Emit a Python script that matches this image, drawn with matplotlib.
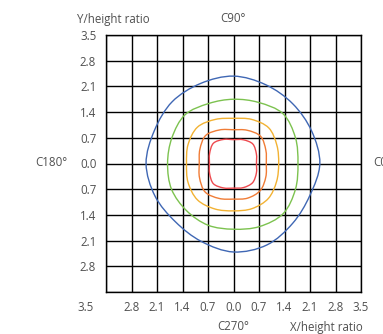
import numpy as np
import matplotlib
matplotlib.use("Agg")
import matplotlib.pyplot as plt
from matplotlib.path import Path
from matplotlib.patches import PathPatch

plt.rcParams['font.family'] = ['Open Sans', 'DejaVu Sans']

# isolux contours, radius (height ratio) read every 22.5 deg, counter-clockwise from C0
angles_deg = [0, 22.5, 45, 67.5, 90, 112.5, 135, 157.5,
              180, 202.5, 225, 247.5, 270, 292.5, 315, 337.5]
r_blue = [2.37, 2.32, 2.30, 2.32, 2.38, 2.36, 2.38, 2.35,
          2.40, 2.33, 2.25, 2.30, 2.41, 2.40, 2.30, 2.27]
r_green = [1.77, 1.84, 1.92, 1.80, 1.75, 1.77, 1.88, 1.83,
           1.81, 1.84, 1.82, 1.82, 1.79, 1.86, 1.93, 1.84]
r_yellow = [1.24, 1.29, 1.37, 1.30, 1.23, 1.30, 1.40, 1.35,
            1.29, 1.35, 1.40, 1.34, 1.29, 1.33, 1.35, 1.28]
r_orange = [0.90, 0.96, 1.05, 0.98, 0.92, 0.99, 1.08, 1.00,
            0.94, 1.01, 1.10, 1.03, 0.97, 1.02, 1.04, 0.96]
r_red = [0.63, 0.68, 0.75, 0.70, 0.65, 0.71, 0.78, 0.71,
         0.66, 0.71, 0.78, 0.72, 0.67, 0.71, 0.74, 0.68]

contours = [r_blue, r_green, r_yellow, r_orange, r_red]
colors = ['#3f67b4', '#7cc24f', '#f2b233', '#f07c36', '#ee4a4f']

grid_ticks = [-3.5, -2.8, -2.1, -1.4, -0.7, 0.0, 0.7, 1.4, 2.1, 2.8, 3.5]
y_ticks = [3.5, 2.8, 2.1, 1.4, 0.7, 0.0, -0.7, -1.4, -2.1, -2.8]
x_ticks = [-2.8, -2.1, -1.4, -0.7, 0.0, 0.7, 1.4, 2.1, 2.8, 3.5]

txt = '#505050'
fs = 8.3
fig = plt.figure(figsize=(3.83, 3.34), dpi=100)
ax = fig.add_axes([106 / 383, 1 - 292 / 334, 255 / 383, 257 / 334])
ax.set_xlim(-3.5, 3.5)
ax.set_ylim(-3.5, 3.5)

for t in grid_ticks:
    ax.axvline(t, color='black', lw=1.0, zorder=1)
    ax.axhline(t, color='black', lw=1.0, zorder=1)


def closed_curve(radii):
    th = np.radians(angles_deg)
    pts = np.column_stack([np.array(radii) * np.cos(th), np.array(radii) * np.sin(th)])
    n = len(pts)
    verts = [pts[0]]
    codes = [Path.MOVETO]
    for i in range(n):
        p0, p1, p2, p3 = pts[i - 1], pts[i], pts[(i + 1) % n], pts[(i + 2) % n]
        verts += [p1 + (p2 - p0) / 6, p2 - (p3 - p1) / 6, p2]
        codes += [Path.CURVE4] * 3
    return Path(verts, codes)


for radii, c in zip(contours, colors):
    ax.add_patch(PathPatch(closed_curve(radii), fill=False, edgecolor=c, lw=1.0, zorder=3))

ax.set_yticks(y_ticks)
ax.set_yticklabels(['%.1f' % abs(v) for v in y_ticks])
ax.set_xticks(x_ticks)
ax.set_xticklabels(['%.1f' % abs(v) for v in x_ticks])
ax.tick_params(length=0, labelsize=fs, labelcolor=txt)
ax.tick_params(axis='y', pad=7)
ax.tick_params(axis='x', pad=6.5)
for s in ax.spines.values():
    s.set_linewidth(1.0)

ax.text(-0.082, -0.034, '3.5', transform=ax.transAxes, ha='center', va='top', fontsize=fs, color=txt)
fig.text(113 / 383, 1 - 19 / 334, 'Y/height ratio', ha='center', va='center', fontsize=fs, color=txt)
fig.text(233 / 383, 1 - 19 / 334, 'C90°', ha='center', va='center', fontsize=fs, color=txt)
fig.text(67 / 383, 1 - 163 / 334, 'C180°', ha='right', va='center', fontsize=fs, color=txt)
fig.text(373 / 383, 1 - 163 / 334, 'C0°', ha='left', va='center', fontsize=fs, color=txt)
fig.text(233 / 383, 1 - 327 / 334, 'C270°', ha='center', va='center', fontsize=fs, color=txt)
fig.text(326 / 383, 1 - 327 / 334, 'X/height ratio', ha='center', va='center', fontsize=fs, color=txt)

fig.savefig('out.png', dpi=100)
